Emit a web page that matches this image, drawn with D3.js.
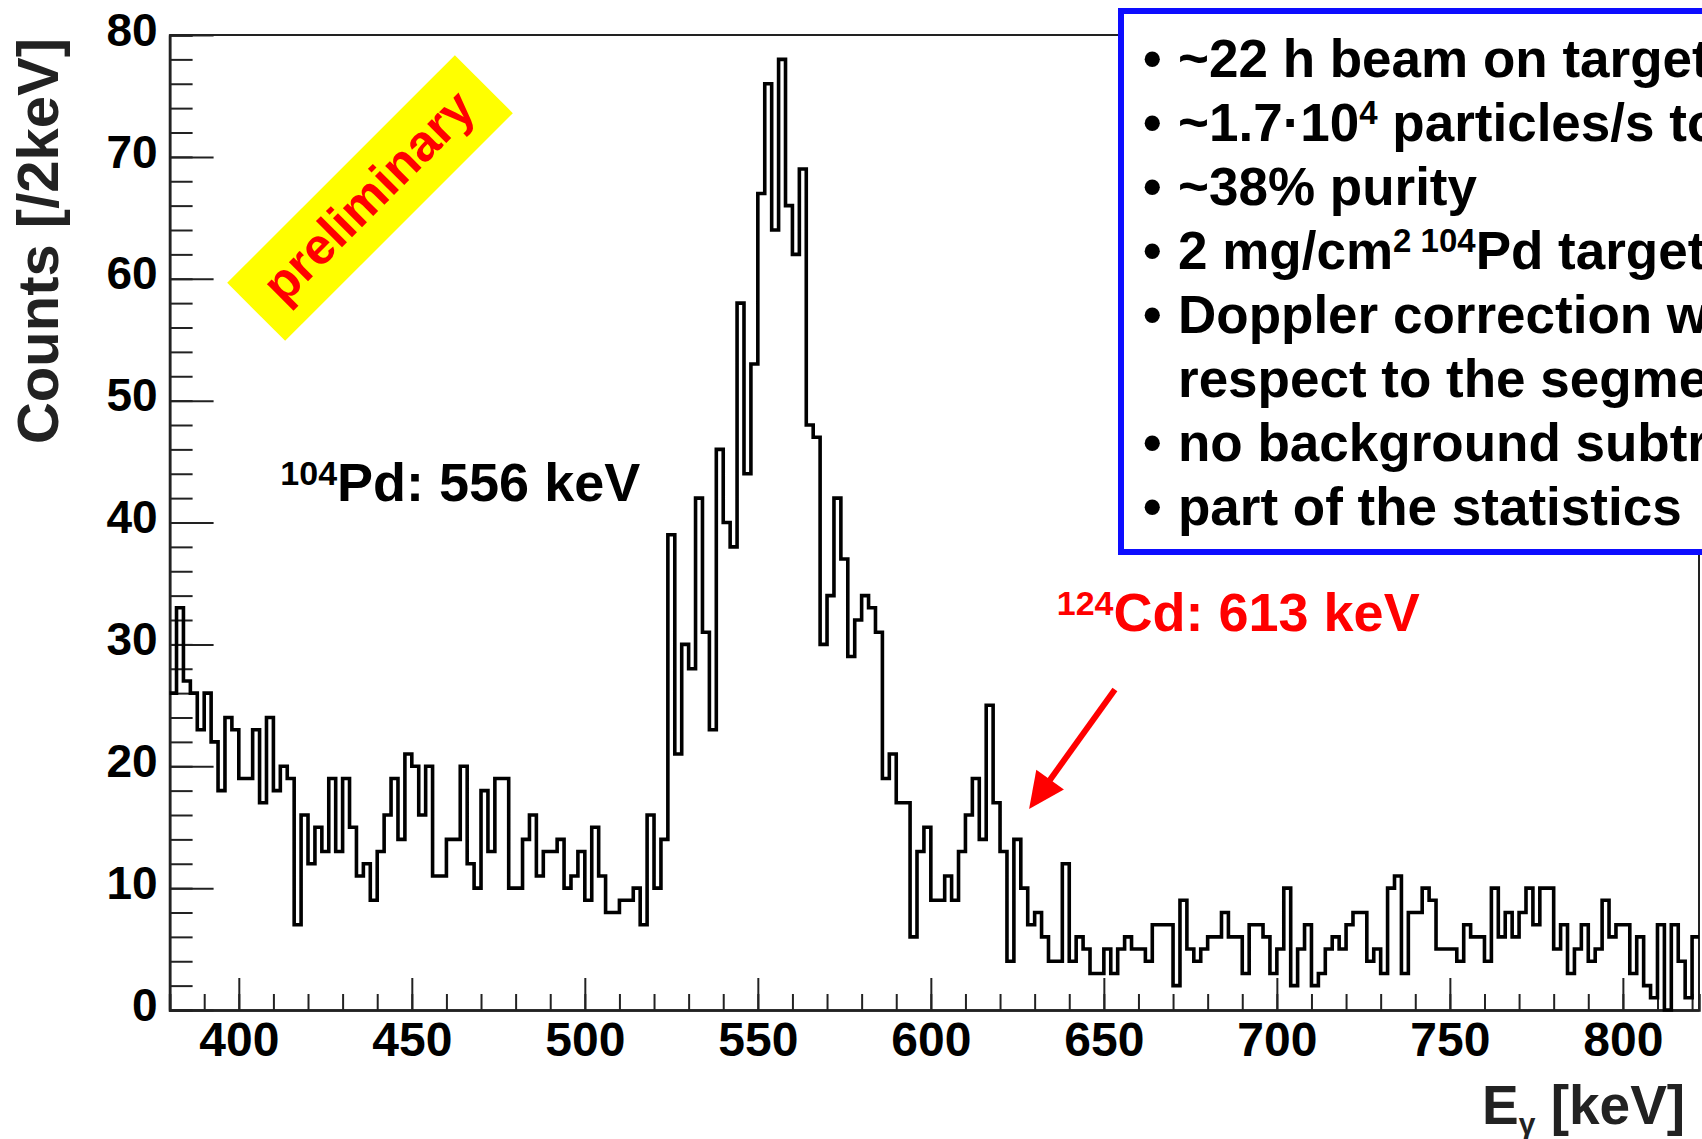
<!DOCTYPE html>
<html>
<head>
<meta charset="utf-8">
<script src="https://cdn.jsdelivr.net/npm/d3@7"></script>
<style>
  body { margin: 0; background: #fff; }
  svg { display: block; }
  text { font-family: "Liberation Sans", Arial, Helvetica, sans-serif; font-weight: bold; }
</style>
</head>
<body>
<div id="chart"></div>
<script>
var width = 1702, height = 1139;
var plot = {left: 169.6, right: 1699, top: 35, bottom: 1010};

// spectrum: 2 keV bins starting at 380 keV
var binLow = 380;
var binWidth = 2;
var counts = [
  26, 33, 27, 26, 23, 26, 22, 18, 24, 23, 19, 19, 23, 17, 24, 18, 20, 19, 7, 16,
  12, 15, 13, 19, 13, 19, 15, 11, 12, 9, 13, 16, 19, 14, 21, 20, 16, 20, 11, 11,
  14, 14, 20, 12, 10, 18, 13, 19, 19, 10, 10, 14, 16, 11, 13, 13, 14, 10, 11, 13,
  9, 15, 11, 8, 8, 9, 9, 10, 7, 16, 10, 14, 39, 21, 30, 28, 42, 31, 23, 46,
  40, 38, 58, 44, 53, 67, 76, 64, 78, 66, 62, 69, 48, 47, 30, 34, 42, 37, 29, 32,
  34, 33, 31, 19, 21, 17, 17, 6, 13, 15, 9, 9, 11, 9, 13, 16, 19, 14, 25, 17,
  13, 4, 14, 10, 7, 8, 6, 4, 4, 12, 4, 6, 5, 3, 3, 5, 3, 5, 6, 5,
  5, 4, 7, 7, 7, 2, 9, 5, 4, 5, 6, 6, 8, 6, 6, 3, 7, 7, 6, 3,
  5, 10, 2, 5, 7, 2, 3, 5, 6, 5, 7, 8, 8, 4, 5, 3, 10, 11, 3, 8,
  8, 10, 9, 5, 5, 5, 4, 7, 6, 6, 4, 10, 6, 8, 6, 8, 10, 7, 10, 10,
  5, 7, 3, 5, 7, 4, 5, 9, 6, 7, 7, 3, 6, 2, 1, 7, 0, 7, 4, 1,
  6
];
var xTicks = [400, 450, 500, 550, 600, 650, 700, 750, 800];
var yTicks = [0, 10, 20, 30, 40, 50, 60, 70, 80];

// box text, {s: 1} marks a superscript
var infoLines = [
  [{t: "~22 h beam on target"}],
  [{t: "~1.7·10"}, {t: "4", s: 1}, {t: " particles/s to target"}],
  [{t: "~38% purity"}],
  [{t: "2 mg/cm"}, {t: "2 104", s: 1}, {t: "Pd target"}],
  [{t: "Doppler correction with"}],
  [{t: "respect to the segments"}],
  [{t: "no background subtraction"}],
  [{t: "part of the statistics"}]
];
var bulleted = [1, 1, 1, 1, 1, 0, 1, 1];

var xMax = binLow + counts.length * binWidth;

var x = d3.scaleLinear().domain([binLow, xMax]).range([plot.left, plot.right]);
var y = d3.scaleLinear().domain([0, 80]).range([plot.bottom, plot.top]);

var svg = d3.select("#chart").append("svg")
  .attr("width", width)
  .attr("height", height);

function richText(sel, segs, big, small, lift) {
  var up = false;
  segs.forEach(function(seg) {
    var ts = sel.append("tspan").text(seg.t);
    if (seg.s) {
      ts.attr("font-size", small).attr("dy", up ? 0 : -lift);
      up = true;
    } else {
      ts.attr("font-size", big).attr("dy", up ? lift : 0);
      up = false;
    }
  });
}

// frame
svg.append("path")
  .attr("d", "M" + plot.left + "," + plot.top + "H" + plot.right + "V" + plot.bottom)
  .attr("fill", "none")
  .attr("stroke", "#222")
  .attr("stroke-width", 2);

// minor ticks
var yMinor = svg.append("g")
  .attr("transform", "translate(" + plot.left + ",0)")
  .call(d3.axisLeft(y).tickValues(d3.range(0, 81, 2)).tickSize(-23).tickFormat(""));
var xMinor = svg.append("g")
  .attr("transform", "translate(0," + plot.bottom + ")")
  .call(d3.axisBottom(x).tickValues(d3.range(380, xMax + 1, 10)).tickSize(-16).tickFormat(""));

// major ticks + labels
var yAxis = svg.append("g")
  .attr("transform", "translate(" + plot.left + ",0)")
  .call(d3.axisLeft(y).tickValues(yTicks).tickSizeInner(-44).tickSizeOuter(0).tickPadding(12));
var xAxis = svg.append("g")
  .attr("transform", "translate(0," + plot.bottom + ")")
  .call(d3.axisBottom(x).tickValues(xTicks).tickSizeInner(-32).tickSizeOuter(0).tickPadding(12));

[yMinor, xMinor, yAxis, xAxis].forEach(function(g) {
  g.selectAll("path.domain").attr("stroke", "#222").attr("stroke-width", 2.5);
  g.selectAll(".tick line").attr("stroke", "#222").attr("stroke-width", 2);
});
yAxis.selectAll("text").attr("font-size", 46).attr("dy", "0.22em").attr("fill", "#000");
xAxis.selectAll("text").attr("font-size", 48).attr("fill", "#000");

// histogram
var pts = counts.map(function(c, i) { return [binLow + i * binWidth, c]; });
pts.push([xMax, counts[counts.length - 1]]);

var histLine = d3.line()
  .x(function(d) { return x(d[0]); })
  .y(function(d) { return y(d[1]); })
  .curve(d3.curveStepAfter);

svg.append("path")
  .datum(pts)
  .attr("d", histLine)
  .attr("fill", "none")
  .attr("stroke", "#000")
  .attr("stroke-width", 3.6)
  .attr("stroke-linejoin", "miter");

// axis titles
svg.append("text")
  .attr("transform", "translate(58,241) rotate(-90)")
  .attr("text-anchor", "middle")
  .attr("font-size", 58)
  .attr("fill", "#222")
  .text("Counts [/2keV]");

var xt = svg.append("text")
  .attr("x", 1482).attr("y", 1124)
  .attr("fill", "#222");
xt.append("tspan").attr("font-size", 55).text("E");
xt.append("tspan").attr("font-size", 30).attr("dy", 10).text("γ");
xt.append("tspan").attr("font-size", 55).attr("dy", -10).text(" [keV]");

// preliminary badge
var badge = svg.append("g").attr("transform", "translate(370,198) rotate(-45)");
badge.append("rect")
  .attr("x", -161).attr("y", -41)
  .attr("width", 322).attr("height", 82)
  .attr("fill", "#ffff00");
badge.append("text")
  .attr("text-anchor", "middle")
  .attr("y", 15)
  .attr("font-size", 51)
  .attr("fill", "#ff0000")
  .text("preliminary");

// peak labels
var pd = svg.append("text")
  .attr("x", x(412)).attr("y", y(41.8))
  .attr("fill", "#000");
richText(pd, [{t: "104", s: 1}, {t: "Pd: 556 keV"}], 54, 34, 16);

var cd = svg.append("text")
  .attr("x", x(636.4)).attr("y", y(31.1))
  .attr("fill", "#ff0000");
richText(cd, [{t: "124", s: 1}, {t: "Cd: 613 keV"}], 54, 34, 16);

// arrow to the 613 keV line
var a0 = [x(653.2), y(26.3)], a1 = [x(628.4), y(16.5)];
var dx = a1[0] - a0[0], dy = a1[1] - a0[1], len = Math.sqrt(dx * dx + dy * dy);
var ux = dx / len, uy = dy / len, headL = 36, headW = 17;
var bx = a1[0] - ux * headL, by = a1[1] - uy * headL;
svg.append("line")
  .attr("x1", a0[0]).attr("y1", a0[1])
  .attr("x2", bx + ux * 4).attr("y2", by + uy * 4)
  .attr("stroke", "#ff0000")
  .attr("stroke-width", 6);
svg.append("polygon")
  .attr("points", [a1, [bx - uy * headW, by + ux * headW], [bx + uy * headW, by - ux * headW]].map(function(p) { return p.join(","); }).join(" "))
  .attr("fill", "#ff0000");

// info box (runs past the right edge, as in the original slide)
svg.append("rect")
  .attr("x", 1121).attr("y", 11)
  .attr("width", 620).attr("height", 541)
  .attr("fill", "#fff")
  .attr("stroke", "#0d0dff")
  .attr("stroke-width", 6);

var info = svg.append("g");
infoLines.forEach(function(segs, i) {
  var by0 = 77 + i * 64;
  if (bulleted[i]) {
    info.append("text")
      .attr("x", 1143).attr("y", by0)
      .attr("font-size", 53)
      .attr("fill", "#000")
      .text("•");
  }
  var t = info.append("text")
    .attr("x", 1178).attr("y", by0)
    .attr("fill", "#000");
  richText(t, segs, 53, 33, 17);
});
</script>
</body>
</html>
